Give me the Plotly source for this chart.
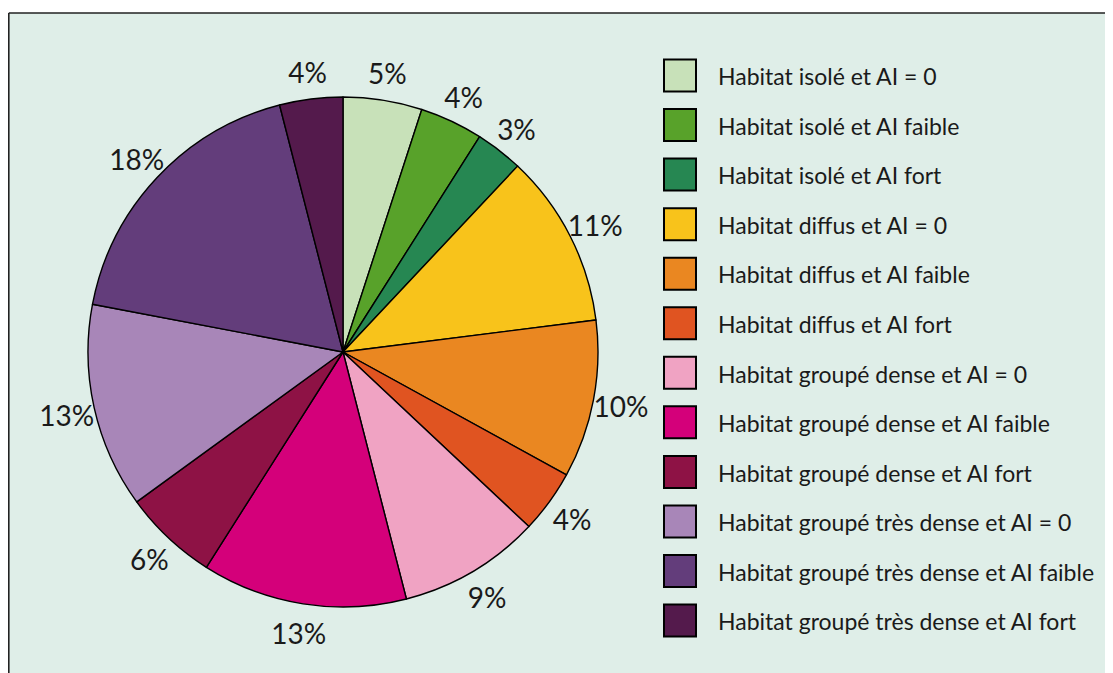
import numpy as np
import plotly.graph_objects as go

categories = [
    "Habitat isolé et AI = 0",
    "Habitat isolé et AI faible",
    "Habitat isolé et AI fort",
    "Habitat diffus et AI = 0",
    "Habitat diffus et AI faible",
    "Habitat diffus et AI fort",
    "Habitat groupé dense et AI = 0",
    "Habitat groupé dense et AI faible",
    "Habitat groupé dense et AI fort",
    "Habitat groupé très dense et AI = 0",
    "Habitat groupé très dense et AI faible",
    "Habitat groupé très dense et AI fort",
]
values = [5, 4, 3, 11, 10, 4, 9, 13, 6, 13, 18, 4]
colors = [
    "#c8e1b9", "#58a22a", "#268752",
    "#f8c31b", "#ea8721", "#e05421",
    "#f0a3c3", "#d4007a", "#8e1245",
    "#a886b8", "#633d7b", "#541a4c",
]

W, H = 1113, 673
OFF = 8  # page body margin offset
BG = "#dfeee8"
FONT = "Lato, 'Open Sans', sans-serif"
TXT = "#1a1a1a"

# pie geometry (figure pixels)
cx, cy, r = 343 - OFF, 352 - OFF, 255
dom = dict(x=[(cx - r) / W, (cx + r) / W], y=[1 - (cy + r) / H, 1 - (cy - r) / H])
RMAX = 1.2  # polar radial range so that r=1 equals the pie edge
rp = r * RMAX
ty = cy + 5  # text baseline compensation
pdom = dict(x=[(cx - rp) / W, (cx + rp) / W], y=[1 - (ty + rp) / H, 1 - (ty - rp) / H])

fig = go.Figure()
fig.add_trace(go.Pie(
    labels=categories,
    values=values,
    sort=False,
    direction="clockwise",
    rotation=0,
    marker=dict(colors=colors, line=dict(color="#000000", width=1.4)),
    textinfo="none",
    hoverinfo="skip",
    showlegend=False,
    domain=dom,
))

# percentage labels placed at the middle angle of each slice, outside the pie
vals = np.array(values, dtype=float)
mid = (np.cumsum(vals) - vals / 2) / vals.sum() * 360.0
fig.add_trace(go.Scatterpolar(
    r=[1.11] * len(values), theta=mid, mode="text",
    text=[f"{v}%" for v in values],
    textposition="middle center",
    textfont=dict(family=FONT, size=28, color=TXT),
    cliponaxis=False,
    hoverinfo="skip", showlegend=False,
))

# legend built as a scatter on hidden axes
idx = list(range(len(categories)))
fig.add_trace(go.Scatter(
    x=[0] * len(categories), y=idx, mode="markers",
    marker=dict(symbol="square", size=32, color=colors, line=dict(color="#000000", width=2)),
    hoverinfo="skip", showlegend=False,
))
fig.add_trace(go.Scatter(
    x=[38] * len(categories), y=idx, mode="text", text=categories,
    textposition="middle right",
    textfont=dict(family=FONT, size=23, color=TXT),
    hoverinfo="skip", showlegend=False, yaxis="y2",
))

lx = 680 - OFF
row0, step = 75.5 - OFF, 49.55
trow0 = row0 + 4
fig.update_layout(
    xaxis=dict(domain=[0, 1], range=[-lx, W - lx], visible=False, fixedrange=True),
    yaxis=dict(domain=[0, 1], range=[(H - row0) / step, -row0 / step], visible=False, fixedrange=True),
    yaxis2=dict(domain=[0, 1], range=[(H - trow0) / step, -trow0 / step], visible=False,
                fixedrange=True, overlaying="y"),
)

fig.update_layout(
    width=W, height=H,
    margin=dict(l=0, r=0, t=0, b=0),
    paper_bgcolor="white",
    plot_bgcolor="rgba(0,0,0,0)",
    polar=dict(
        domain=pdom,
        bgcolor="rgba(0,0,0,0)",
        radialaxis=dict(range=[0, RMAX], visible=False),
        angularaxis=dict(rotation=90, direction="clockwise", visible=False),
    ),
    shapes=[
        dict(type="rect", xref="paper", yref="paper", x0=0, x1=1.01, y0=-0.01, y1=1 - 5 / H,
             fillcolor=BG, line=dict(width=0), layer="below"),
        dict(type="line", xref="paper", yref="paper", x0=0.8 / W, x1=1.01, y0=1 - 5 / H, y1=1 - 5 / H,
             line=dict(color="#222222", width=1.6), layer="below"),
        dict(type="line", xref="paper", yref="paper", x0=0.8 / W, x1=0.8 / W, y0=-0.01, y1=1 - 5 / H,
             line=dict(color="#222222", width=1.6), layer="below"),
    ],
)

fig.write_html("out.html")
